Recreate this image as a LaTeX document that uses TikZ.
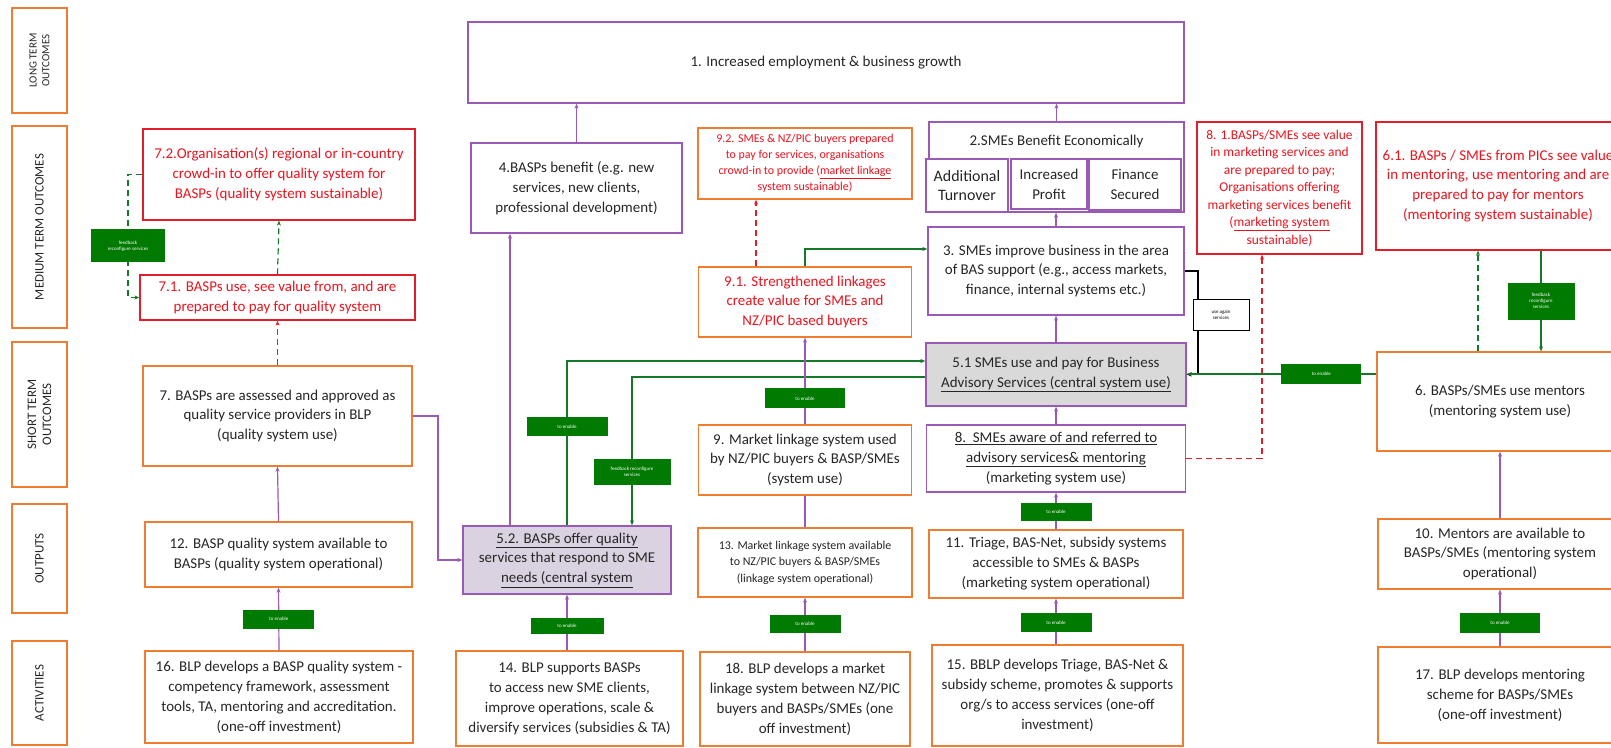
\documentclass[tikz,border=0pt]{standalone}
\usepackage{fontspec}
\setmainfont{Carlito}
\usetikzlibrary{arrows.meta}
\definecolor{boxorange}{RGB}{237,125,49}
\definecolor{boxpurple}{RGB}{155,89,182}
\definecolor{boxred}{RGB}{226,30,42}
\definecolor{txtred}{RGB}{235,20,30}
\definecolor{enablegreen}{RGB}{0,122,0}
\definecolor{linegreen}{RGB}{20,120,40}
\definecolor{centralgray}{RGB}{217,217,217}
\definecolor{centralmauve}{RGB}{218,210,224}
\definecolor{txtgray}{RGB}{38,38,38}

\begin{document}
\begin{tikzpicture}[x=1bp,y=-1bp,>={Stealth[length=5bp,width=4bp]},
  every node/.style={inner sep=0pt,align=center,text=txtgray,font=\fontsize{15}{20}\selectfont},
  obox/.style={draw=boxorange,line width=1.3bp,fill=white},
  pbox/.style={draw=boxpurple,line width=1.3bp,fill=white},
  rbox/.style={draw=boxred,line width=1.3bp,fill=white,text=txtred},
  lanebox/.style={obox,rotate=90,minimum height=55bp,font=\fontsize{13}{15}\selectfont},
  enable/.style={fill=enablegreen,text=white,font=\fontsize{5}{6}\selectfont,minimum width=72bp,minimum height=18bp},
  again/.style={draw=black,line width=1bp,fill=white,text=black,font=\fontsize{5}{6}\selectfont,minimum width=56bp,minimum height=31bp},
  pline/.style={draw=boxpurple,line width=1.2bp},
  gline/.style={draw=linegreen,line width=1.2bp},
  gdash/.style={gline,dash pattern=on 6bp off 4bp},
  rdash/.style={draw=boxred,line width=1.2bp,dash pattern=on 6bp off 4bp},
]
\useasboundingbox (0,0) rectangle (1611,748);
\clip (0,0) rectangle (1611,748);
\fill[white] (0,0) rectangle (1611,748);
%%
% Node: lanes
\node[lanebox,minimum width=105bp,font=\fontsize{11}{13}\selectfont] (lt) at (39.5,60.5) {LONG TERM\\OUTCOMES};
\node[lanebox,minimum width=202bp] (mt) at (39.5,227) {MEDIUM TERM OUTCOMES};
\node[lanebox,minimum width=145bp] (st) at (39.5,414.5) {SHORT TERM\\OUTCOMES};
\node[lanebox,minimum width=109bp] (op) at (39.5,558.5) {OUTPUTS};
\node[lanebox,minimum width=104bp] (ac) at (39.5,693) {ACTIVITIES};
%
% Node: long term
\node[pbox,minimum width=716bp,minimum height=81bp] (b1) at (826,62.5) {1. Increased employment \& business growth};
%
% Node: quality system column
\node[rbox,minimum width=272bp,minimum height=91bp] (b72) at (279,174.5) {7.2.Organisation(s) regional or in-country\\crowd-in to offer quality system for\\BASPs (quality system sustainable)};
\node[rbox,minimum width=275bp,minimum height=45bp] (b71) at (277.5,297.5) {7.1. BASPs use, see value from, and are\\prepared to pay for quality system};
\node[obox,minimum width=269bp,minimum height=100bp] (b7) at (277.5,416) {7. BASPs are assessed and approved as\\quality service providers in BLP\\(quality system use)};
\node[obox,minimum width=267bp,minimum height=65bp] (b12) at (278.5,554.5) {12. BASP quality system available to\\BASPs (quality system operational)};
\node[obox,minimum width=268bp,minimum height=92bp] (b16) at (279,697) {16. BLP develops a BASP quality system -\\competency framework, assessment\\tools, TA, mentoring and accreditation.\\(one-off investment)};
%
% Node: BASP column
\node[pbox,minimum width=211bp,minimum height=90bp] (b4) at (576.5,188) {4.BASPs benefit (e.g. new\\services, new clients,\\professional development)};
\node[pbox,fill=centralmauve,minimum width=208bp,minimum height=68bp] (b52) at (567,560) {\underline{5.2. BASPs offer quality}\\services that respond to SME\\\underline{needs (central system}};
\node[obox,minimum width=227bp,minimum height=95bp] (b14) at (569.5,698.5) {14. BLP supports BASPs\\to access new SME clients,\\improve operations, scale \&\\diversify services (subsidies \& TA)};
%
% Node: market linkage column
\node[obox,text=txtred,minimum width=214bp,minimum height=71bp,font=\fontsize{12}{16}\selectfont] (b92) at (805,163.5) {9.2. SMEs \& NZ/PIC buyers prepared\\to pay for services, organisations\\crowd-in to provide (\underline{market linkage}\\system sustainable)};
\node[obox,text=txtred,minimum width=213bp,minimum height=70bp] (b91) at (805,302) {9.1. Strengthened linkages\\create value for SMEs and\\NZ/PIC based buyers};
\node[obox,minimum width=213bp,minimum height=70bp] (b9) at (805,460) {9. Market linkage system used\\by NZ/PIC buyers \& BASP/SMEs\\(system use)};
\node[obox,minimum width=214bp,minimum height=69bp,font=\fontsize{12}{16.5}\selectfont] (b13) at (805,562.5) {13. Market linkage system available\\to NZ/PIC buyers \& BASP/SMEs\\(linkage system operational)};
\node[obox,minimum width=210bp,minimum height=94bp] (b18) at (805,699) {18. BLP develops a market\\linkage system between NZ/PIC\\buyers and BASPs/SMEs (one\\off investment)};
%
% Node: SME column
\node[pbox,minimum width=255bp,minimum height=90bp] (b2) at (1056.5,167) {};
\node (b2t) at (1056.5,142) {2.SMEs Benefit Economically};
\node[pbox,minimum width=82bp,minimum height=53bp,font=\fontsize{16}{20}\selectfont] (s1) at (967,185.5) {Additional\\Turnover};
\node[pbox,minimum width=76bp,minimum height=50bp] (s2) at (1049,184) {Increased\\Profit};
\node[pbox,minimum width=92bp,minimum height=51bp] (s3) at (1135,184.5) {Finance\\Secured};
\node[pbox,minimum width=256bp,minimum height=88bp] (b3) at (1056,271) {3. SMEs improve business in the area\\of BAS support (e.g., access markets,\\finance, internal systems etc.)};
\node[pbox,fill=centralgray,minimum width=260bp,minimum height=63bp] (b51) at (1056,374.5) {5.1 SMEs use and pay for Business\\\underline{Advisory Services (central system use)}};
\node[pbox,minimum width=259bp,minimum height=67bp] (b8) at (1056,458.5) {\underline{8.\ \ SMEs aware of and referred to}\\\underline{advisory services\& mentoring}\\(marketing system use)};
\node[obox,minimum width=254bp,minimum height=68bp] (b11) at (1056,564) {11. Triage, BAS-Net, subsidy systems\\accessible to SMEs \& BASPs\\(marketing system operational)};
\node[obox,minimum width=251bp,minimum height=101bp] (b15) at (1057.5,695.5) {15. BBLP develops Triage, BAS-Net \&\\subsidy scheme, promotes \& supports\\org/s to access services (one-off\\investment)};
%
% Node: marketing and mentoring
\node[rbox,minimum width=165bp,minimum height=132bp,font=\fontsize{13.5}{17.5}\selectfont] (b81) at (1279.5,188) {8. 1.BASPs/SMEs see value\\in marketing services and\\are prepared to pay;\\Organisations offering\\marketing services benefit\\(\underline{marketing system}\\sustainable)};
\node[rbox,minimum width=244bp,minimum height=128bp] (b61) at (1498,186) {6.1. BASPs / SMEs from PICs see value\\in mentoring, use mentoring and are\\prepared to pay for mentors\\(mentoring system sustainable)};
\node[obox,minimum width=246bp,minimum height=99bp] (b6) at (1500,401.5) {6. BASPs/SMEs use mentors\\(mentoring system use)};
\node[obox,minimum width=244bp,minimum height=70bp] (b10) at (1500,554) {10. Mentors are available to\\BASPs/SMEs (mentoring system\\operational)};
\node[obox,minimum width=244bp,minimum height=96bp] (b17) at (1500,695) {17. BLP develops mentoring\\scheme for BASPs/SMEs\\(one-off investment)};
%
% Edge: quality system column
\draw[pline,->] (b16.north) -- node[enable,minimum width=71bp,minimum height=19bp] (e16) {to enable} (b12.south);
\draw[pline,->] (b12.north) -- (b7.south);
\draw[rdash,->] (b7.north) -- (b71.south);
\draw[gdash,->] (b71.north) -- (b72.south);
\draw[gdash,->] (b72.west) -- (128,174.5) |- node[enable,pos=0.29,minimum width=74bp,minimum height=33bp] (f7) {feedback\\reconfigure services} (b71.west);
\draw[pline,->] (b7.east) -- (438,416) |- (b52.west);
%
% Edge: BASP column
\draw[pline,->] (b14.north -| b52.north) -- node[enable,pos=0.44,minimum width=73bp,minimum height=16bp] (e14) {to enable} (b52.south);
\draw[pline,->] (b52.north -| 510,0) -- (b4.south -| 510,0);
\draw[pline,->] (b4.north) -- (b4.north |- b1.south);
\draw[gline,->] (b52.north) |- node[enable,pos=0.3,minimum width=81bp,minimum height=19bp] (e52) {to enable} (b51.west |- 0,361);
\draw[gline,->] (b51.west |- 0,377) -| node[enable,pos=0.82,minimum width=77bp,minimum height=26bp] (f52) {feedback reconfigure\\services} (b52.north -| 632,0);
%
% Edge: market linkage column
\draw[pline,->] (b18.north) -- node[enable,pos=0.51,minimum width=71bp] (e18) {to enable} (b13.south);
\draw[pline] (b13.north) -- (b9.south);
\draw[pline,->] (b9.north) -- node[enable,pos=0.3,minimum width=80bp,minimum height=20bp] (e9) {to enable} (b91.south);
\draw[rdash,->] (b91.north -| 756,0) -- (b92.south -| 756,0);
\draw[gline,->] (b91.north) |- (b3.west |- 0,249);
%
% Edge: SME column
\draw[pline,->] (b15.north -| b11.south) -- node[enable,pos=0.48,minimum width=71bp,minimum height=19bp] (e15) {to enable} (b11.south);
\draw[pline,->] (b11.north) -- node[enable,pos=0.47,minimum width=71bp] (e11) {to enable} (b8.south);
\draw[pline,->] (b8.north) -- (b51.south);
\draw[pline,->] (b51.north) -- (b3.south);
\draw[pline,->] (b3.north) -- (b3.north |- b2.south);
\draw[pline,->] (b2.north) -- (b2.north |- b1.south);
\draw[line width=1.2bp,->] (b3.east) -- (1198,271) |- (b51.east);
\node[again] (ua) at (1221,314.5) {use again\\services};
\draw[rdash,->] (b8.east) -| (b81.south -| 1262,0);
%
% Edge: mentoring column
\draw[pline,->] (b17.north) -- node[enable,pos=0.41,minimum width=80bp,minimum height=20bp] (e17) {to enable} (b10.south);
\draw[pline,->] (b10.north) -- (b6.south);
\draw[gline,->] (b6.west |- 0,374) -- node[enable,pos=0.29,minimum width=80bp,minimum height=20bp] (e6) {to enable} (b51.east |- 0,374);
\draw[gdash,->] (b6.north -| 1478,0) -- (b61.south -| 1478,0);
\draw[gline,->] (b61.south -| 1541,0) -- node[enable,minimum width=67bp,minimum height=37bp] (f61) {feedback\\reconfigure\\services} (b6.north -| 1541,0);
%
\end{tikzpicture}
\end{document}
